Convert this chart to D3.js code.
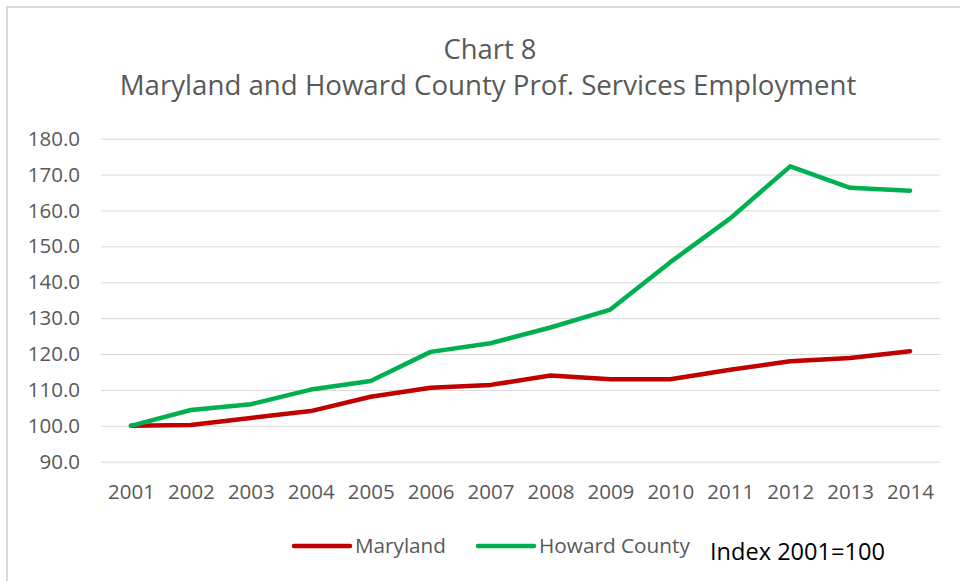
<!DOCTYPE html>
<html>
<head>
<meta charset="utf-8">
<script src="https://cdn.jsdelivr.net/npm/d3@7"></script>
<style>
  body { margin: 0; background: #fff; }
  text { font-family: "Open Sans", sans-serif; }
</style>
</head>
<body>
<div id="container"></div>
<script>
/* CONSTANTS AND GLOBALS */
const width = 960;
const height = 581;

/* DATA */
const years = [2001, 2002, 2003, 2004, 2005, 2006, 2007, 2008, 2009, 2010, 2011, 2012, 2013, 2014];
const maryland = [100.0, 100.2, 102.2, 104.1, 108.1, 110.6, 111.4, 114.0, 113.0, 113.0, 115.6, 118.0, 118.9, 120.8];
const howard = [100.0, 104.4, 106.0, 110.1, 112.5, 120.6, 123.0, 127.4, 132.4, 145.6, 157.8, 172.3, 166.3, 165.5];
const yTicks = [90, 100, 110, 120, 130, 140, 150, 160, 170, 180];
const seriesNames = ["Maryland", "Howard County"];
const seriesColors = ["#c00000", "#00b050"];

const svg = d3.select("#container")
  .append("svg")
  .attr("width", width)
  .attr("height", height);

// outer chart border (cropped on the right and bottom)
svg.append("rect")
  .attr("x", 7).attr("y", 7)
  .attr("width", width + 20).attr("height", height + 20)
  .attr("fill", "none")
  .attr("stroke", "#d9d9d9")
  .attr("stroke-width", 2);

/* SCALES */
const xScale = d3.scalePoint()
  .domain(years)
  .range([101, 940])
  .padding(0.5);

const yScale = d3.scaleLinear()
  .domain([90, 180])
  .range([461.7, 138.7]);

/* AXES */
const yAxis = d3.axisLeft(yScale)
  .tickValues(yTicks)
  .tickFormat(d3.format(".1f"))
  .tickSizeInner(-(940 - 101))
  .tickSizeOuter(0)
  .tickPadding(21);

const yG = svg.append("g")
  .attr("transform", "translate(101,0)")
  .call(yAxis);
yG.select(".domain").remove();
yG.selectAll("line").attr("stroke", "#d9d9d9");
yG.selectAll("text")
  .attr("fill", "#595959")
  .style("font-size", "20.5px");

const xAxis = d3.axisBottom(xScale)
  .tickSize(0)
  .tickPadding(23);

const xG = svg.append("g")
  .attr("transform", `translate(0,${yScale(90)})`)
  .call(xAxis);
xG.select(".domain").remove();
xG.selectAll("text")
  .attr("fill", "#595959")
  .style("font-size", "20.5px");

/* LINES */
const line = d3.line()
  .x((d, i) => xScale(years[i]))
  .y(d => yScale(d));

[maryland, howard].forEach((values, k) => {
  svg.append("path")
    .datum(values)
    .attr("fill", "none")
    .attr("stroke", seriesColors[k])
    .attr("stroke-width", 4.5)
    .attr("stroke-linejoin", "round")
    .attr("stroke-linecap", "round")
    .attr("d", line);
});

/* TITLE */
function fitText(sel, target) {
  const w = sel.node().getComputedTextLength();
  const fs = parseFloat(sel.style("font-size"));
  sel.style("font-size", (fs * target / w) + "px");
}

const t1 = svg.append("text")
  .attr("x", 490).attr("y", 58.5)
  .attr("text-anchor", "middle")
  .attr("fill", "#595959")
  .style("font-size", "26px")
  .text("Chart 8");
fitText(t1, 93);

const t2 = svg.append("text")
  .attr("x", 488).attr("y", 95)
  .attr("text-anchor", "middle")
  .attr("fill", "#595959")
  .style("font-size", "26px")
  .text("Maryland and Howard County Prof. Services Employment");
fitText(t2, 737);

/* LEGEND */
const legendX = [294, 478];
const legendW = [91, 151];
seriesNames.forEach((name, k) => {
  svg.append("line")
    .attr("x1", legendX[k]).attr("x2", legendX[k] + 56)
    .attr("y1", 546).attr("y2", 546)
    .attr("stroke", seriesColors[k])
    .attr("stroke-width", 4.5)
    .attr("stroke-linecap", "round");
  const lt = svg.append("text")
    .attr("x", legendX[k] + 61).attr("y", 553.3)
    .attr("fill", "#595959")
    .style("font-size", "20px")
    .text(name);
  fitText(lt, legendW[k]);
});

const note = svg.append("text")
  .attr("x", 710).attr("y", 560)
  .attr("fill", "#000")
  .style("font-size", "24px")
  .text("Index 2001=100");
fitText(note, 175);
</script>
</body>
</html>
